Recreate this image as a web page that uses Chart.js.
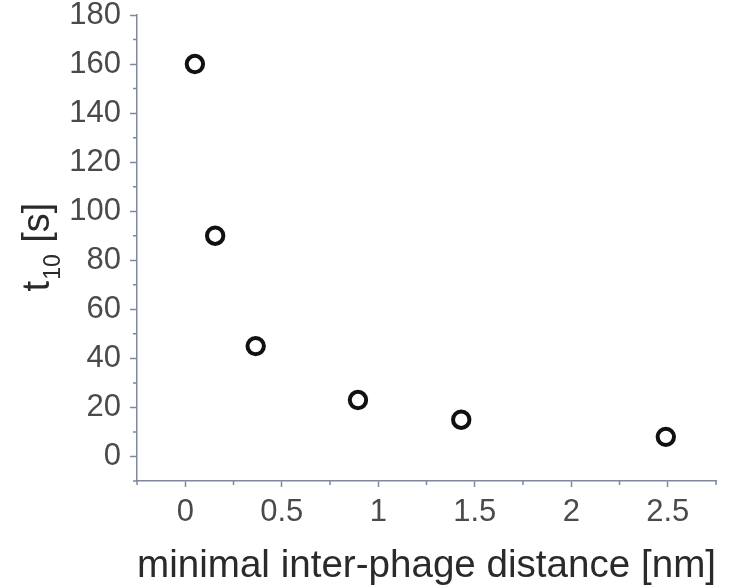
<!DOCTYPE html>
<html><head><meta charset="utf-8">
<script src="https://cdn.jsdelivr.net/npm/chart.js@4/dist/chart.umd.min.js"></script>
<style>html,body{margin:0;padding:0;background:#fff;}canvas{display:block;}</style>
</head><body>
<canvas id="c" width="734" height="586"></canvas>
<script>
// ---- data ----
const distances = [0.05, 0.155, 0.365, 0.895, 1.43, 2.49];   // nm
const t10Values = [160, 90, 45, 23, 15, 8];                   // s
const xTicks = [0, 0.5, 1, 1.5, 2, 2.5];
const yTicks = [0, 20, 40, 60, 80, 100, 120, 140, 160, 180];
const xMinorTicks = [-0.25, 0.25, 0.75, 1.25, 1.75, 2.25, 2.75];
const yMinorTicks = [-10, 10, 30, 50, 70, 90, 110, 130, 150, 170];
const xTitle = 'minimal inter-phage distance [nm]';
const yTitleMain = 't', yTitleSub = '10', yTitleUnit = ' [s]';

const AXIS = '#80879e';
const LABEL = '#4a4a4a';
const FONT = "'Liberation Sans', Arial, sans-serif";

const points = distances.map((d, i) => ({x: d, y: t10Values[i]}));

const extras = {
  id: 'extras',
  afterDraw(chart) {
    const ctx = chart.ctx, xs = chart.scales.x, ys = chart.scales.y, a = chart.chartArea;
    ctx.save();
    ctx.strokeStyle = AXIS; ctx.lineWidth = 1.5;
    ctx.beginPath();
    xMinorTicks.forEach(v => { const p = xs.getPixelForValue(v); ctx.moveTo(p, a.bottom); ctx.lineTo(p, a.bottom + 4); });
    yMinorTicks.forEach(v => { const p = ys.getPixelForValue(v); ctx.moveTo(a.left, p); ctx.lineTo(a.left - 4, p); });
    ctx.stroke();
    // y axis title with subscript
    const mainF = "38px " + FONT, subF = "23px " + FONT;
    ctx.font = mainF; const w1 = ctx.measureText(yTitleMain).width, w3 = ctx.measureText(yTitleUnit).width;
    ctx.font = subF; const w2 = ctx.measureText(yTitleSub).width;
    const total = w1 + w2 + w3;
    ctx.translate(49, (a.top + a.bottom) / 2);
    ctx.rotate(-Math.PI / 2);
    ctx.fillStyle = '#2a2a2a'; ctx.textBaseline = 'alphabetic'; ctx.textAlign = 'left';
    let x0 = -total / 2;
    ctx.font = mainF; ctx.fillText(yTitleMain, x0, 0);
    ctx.font = subF; ctx.fillText(yTitleSub, x0 + w1 + 1, 11);
    ctx.font = mainF; ctx.fillText(yTitleUnit, x0 + w1 + w2 + 2, 0);
    ctx.restore();
  }
};

new Chart(document.getElementById('c'), {
  type: 'scatter',
  data: { datasets: [{
    data: points,
    pointStyle: 'circle',
    pointRadius: 8.2,
    pointHoverRadius: 8.2,
    borderWidth: 4,
    pointBorderWidth: 4,
    borderColor: '#111',
    backgroundColor: 'rgba(255,255,255,0)',
    showLine: false
  }]},
  options: {
    responsive: false,
    animation: false,
    devicePixelRatio: 1,
    events: [],
    layout: { padding: { top: 15, right: 18, left: 0, bottom: 0 } },
    plugins: { legend: { display: false }, tooltip: { enabled: false } },
    scales: {
      x: {
        type: 'linear', min: -0.25, max: 2.75,
        afterBuildTicks: s => { s.ticks = xTicks.map(v => ({value: v})); },
        afterFit: s => { s.height = 105; },
        grid: { drawOnChartArea: false, drawTicks: true, tickLength: 6, tickColor: AXIS, tickWidth: 1.5 },
        border: { display: true, color: AXIS, width: 1.5 },
        ticks: { color: LABEL, padding: 10, font: { family: FONT, size: 31, lineHeight: 1 }, maxRotation: 0, autoSkip: false,
                 callback: v => String(v) },
        title: { display: true, text: xTitle, color: '#2a2a2a', font: { family: FONT, size: 39, lineHeight: 1 }, padding: { top: 13, bottom: 0 } }
      },
      y: {
        type: 'linear', min: -10, max: 180,
        afterBuildTicks: s => { s.ticks = yTicks.map(v => ({value: v})); },
        afterFit: s => { s.width = 137; s.paddingTop = 0; s.paddingBottom = 0; },
        grid: { drawOnChartArea: false, drawTicks: true, tickLength: 7, tickColor: AXIS, tickWidth: 1.5 },
        border: { display: true, color: AXIS, width: 1.5 },
        ticks: { color: LABEL, padding: 9, font: { family: FONT, size: 31, lineHeight: 1 }, autoSkip: false,
                 callback: v => String(v) }
      }
    }
  },
  plugins: [extras]
});
</script>
</body></html>
